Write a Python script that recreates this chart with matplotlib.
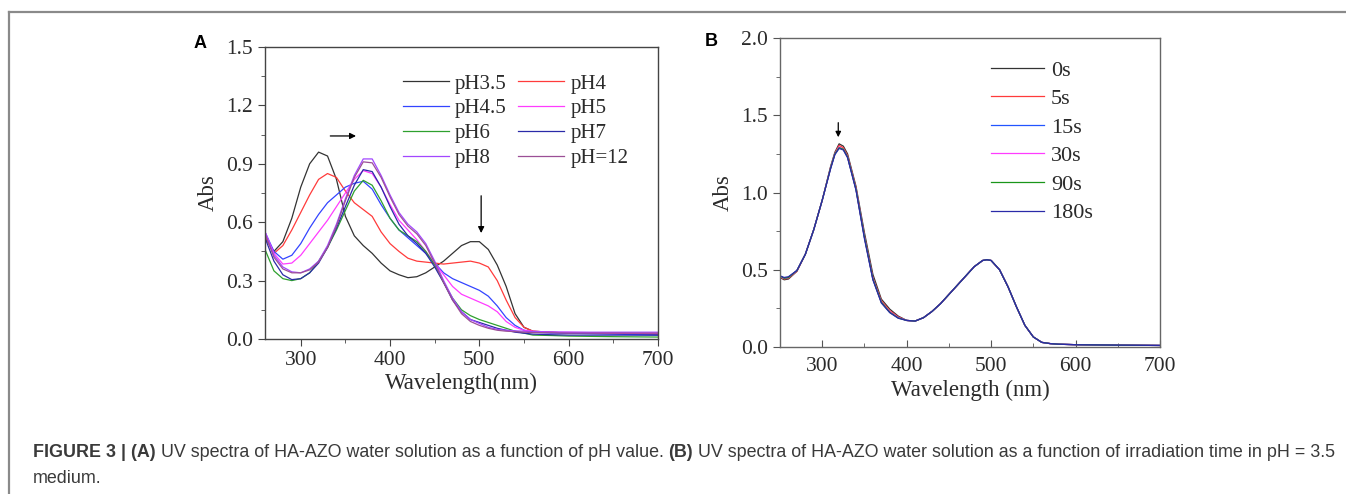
import matplotlib
matplotlib.use("Agg")
import matplotlib.pyplot as plt
from matplotlib.ticker import MultipleLocator, FormatStrFormatter
from matplotlib.lines import Line2D

W, H = 1346, 494

# ---- panel A: pH series ----
wl_a = [260, 270, 280, 290, 300, 310, 320, 330, 340, 350, 360, 370, 380, 390, 400,
        410, 420, 430, 440, 450, 460, 470, 480, 490, 500, 510, 520, 530, 540, 550,
        560, 580, 600, 650, 700]
ph_labels = ["pH3.5", "pH4", "pH4.5", "pH5", "pH6", "pH7", "pH8", "pH=12"]
ph_colors = ["#333333", "#ff3b3b", "#3344ff", "#ff3cff", "#2ea02e", "#2a2aa8", "#a247ff", "#9b4f96"]
abs_ph35 = [.52, .45, .50, .62, .78, .90, .96, .94, .82, .63, .53, .48, .44, .39, .35,
            .33, .315, .32, .34, .37, .40, .44, .48, .50, .50, .46, .38, .27, .13, .06,
            .04, .035, .03, .03, .025]
abs_ph4 = [.53, .44, .48, .56, .65, .74, .82, .85, .83, .76, .70, .665, .63, .55, .49,
           .45, .415, .40, .395, .39, .385, .39, .395, .40, .39, .37, .30, .20, .11, .06,
           .04, .035, .03, .03, .025]
abs_ph45 = [.55, .45, .41, .43, .49, .57, .64, .70, .74, .78, .80, .81, .77, .69, .62,
            .56, .52, .48, .44, .39, .34, .31, .29, .27, .25, .22, .17, .11, .07, .045,
            .035, .03, .03, .025, .02]
abs_ph5 = [.55, .44, .385, .39, .43, .49, .55, .61, .68, .75, .82, .865, .85, .78, .69,
           .61, .56, .51, .45, .39, .33, .27, .23, .21, .19, .17, .14, .09, .06, .045,
           .04, .035, .035, .03, .03]
abs_ph6 = [.46, .35, .31, .30, .31, .34, .40, .47, .56, .66, .76, .815, .79, .71, .62,
           .56, .53, .50, .45, .38, .29, .21, .15, .12, .10, .085, .07, .055, .04, .03,
           .02, .018, .015, .012, .01]
abs_ph7 = [.52, .40, .33, .305, .31, .34, .39, .47, .57, .68, .79, .87, .86, .78, .68,
           .59, .53, .49, .44, .37, .29, .20, .14, .10, .085, .07, .055, .045, .035, .03,
           .025, .022, .02, .02, .02]
abs_ph8 = [.55, .43, .37, .345, .34, .36, .40, .48, .59, .72, .84, .925, .925, .84, .74,
           .65, .59, .55, .49, .40, .30, .21, .14, .10, .08, .06, .05, .045, .042, .04,
           .038, .036, .035, .035, .035]
abs_ph12 = [.54, .42, .36, .34, .34, .355, .395, .47, .58, .71, .83, .91, .905, .83, .73,
            .64, .58, .54, .48, .39, .29, .20, .13, .09, .07, .055, .045, .04, .038, .035,
            .033, .032, .03, .03, .03]
ph_series = [abs_ph35, abs_ph4, abs_ph45, abs_ph5, abs_ph6, abs_ph7, abs_ph8, abs_ph12]

# ---- panel B: irradiation time series ----
wl_b = [250, 255, 260, 270, 280, 290, 300, 310, 315, 320, 325, 330, 340, 350, 360,
        370, 380, 390, 400, 410, 420, 430, 440, 450, 460, 470, 480, 490, 495, 500,
        510, 520, 530, 540, 550, 560, 570, 580, 600, 650, 700]
t_labels = ["0s", "5s", "15s", "30s", "90s", "180s"]
t_colors = ["#333333", "#ff3b3b", "#2255ff", "#ff3cff", "#1a961a", "#2a2aa8"]
right_tail = [.172, .168, .19, .23, .28, .34, .40, .46, .52, .56, .565, .56,
              .50, .39, .26, .14, .065, .03, .022, .018, .015, .012, .01]
abs_0s = [.45, .435, .44, .49, .60, .76, .95, 1.17, 1.26, 1.315, 1.30, 1.25, 1.04, .74, .47,
          .31, .245, .20] + right_tail
abs_5s = [.455, .44, .445, .49, .60, .76, .95, 1.165, 1.255, 1.305, 1.29, 1.24, 1.03, .72, .45,
          .30, .235, .195] + right_tail
abs_15s = [.46, .445, .45, .495, .60, .76, .95, 1.16, 1.25, 1.29, 1.28, 1.23, 1.02, .71, .44,
           .29, .225, .19] + right_tail
abs_30s = [.455, .445, .45, .495, .60, .76, .95, 1.16, 1.25, 1.295, 1.28, 1.23, 1.02, .71, .44,
           .29, .228, .19] + right_tail
abs_90s = [.46, .445, .45, .495, .60, .76, .95, 1.16, 1.25, 1.29, 1.28, 1.23, 1.02, .71, .44,
           .29, .225, .188] + right_tail
abs_180s = [.46, .45, .455, .495, .60, .76, .95, 1.155, 1.245, 1.285, 1.275, 1.225, 1.015, .70, .435,
            .285, .222, .186] + right_tail
t_series = [abs_0s, abs_5s, abs_15s, abs_30s, abs_90s, abs_180s]

plt.rcParams['font.family'] = ['Liberation Serif', 'DejaVu Serif']
fig = plt.figure(figsize=(W / 100, H / 100), dpi=100)


def px(x, y):
    return x / W, 1 - y / H


def box(l, t, r, b):
    return [l / W, 1 - b / H, (r - l) / W, (b - t) / H]


# outer frame
fig.add_artist(Line2D([9 / W, 1], [1 - 12 / H, 1 - 12 / H], color="#8a8a8a", lw=1.6))
fig.add_artist(Line2D([9 / W, 9 / W], [0, 1 - 12 / H], color="#8a8a8a", lw=1.6))

TXT = "#2b2b2b"
TICK = 15.5

# ----- A -----
axA = fig.add_axes(box(265, 47, 658, 339))
for lab, col, ys in zip(ph_labels, ph_colors, ph_series):
    axA.plot(wl_a, ys, color=col, lw=0.9, label=lab)
axA.set_xlim(260, 700)
axA.set_ylim(0, 1.5)
axA.xaxis.set_major_locator(MultipleLocator(100))
axA.xaxis.set_minor_locator(MultipleLocator(50))
axA.yaxis.set_major_locator(MultipleLocator(0.3))
axA.yaxis.set_minor_locator(MultipleLocator(0.15))
axA.yaxis.set_major_formatter(FormatStrFormatter("%.1f"))
axA.tick_params(which="both", direction="out", labelsize=TICK, colors="#444444", labelcolor=TXT)
axA.tick_params(which="major", length=5)
axA.tick_params(which="minor", length=3)
axA.set_xlabel("Wavelength(nm)", fontsize=16.5, color=TXT, labelpad=2)
axA.set_ylabel("Abs", fontsize=16.5, color=TXT, labelpad=5)
for s in axA.spines.values():
    s.set_color("#444444")
    s.set_linewidth(1.0)
h, l = axA.get_legend_handles_labels()
order = [0, 2, 4, 6, 1, 3, 5, 7]
axA.legend([h[i] for i in order], [l[i] for i in order], ncol=2, frameon=False,
           fontsize=15, loc="upper left", bbox_to_anchor=px(403, 74),
           bbox_transform=fig.transFigure, borderpad=0, borderaxespad=0,
           handlelength=2.2, handletextpad=0.3, columnspacing=0.55, labelspacing=0.25,
           labelcolor=TXT)
axA.annotate("", xy=(365, 1.043), xytext=(330, 1.043),
             arrowprops=dict(arrowstyle="-|>", color="black", lw=0.9, mutation_scale=9))
axA.annotate("", xy=(502, 0.53), xytext=(502, 0.75),
             arrowprops=dict(arrowstyle="-|>", color="black", lw=0.9, mutation_scale=9))

# ----- B -----
axB = fig.add_axes(box(780, 38, 1160, 347))
for lab, col, ys in zip(t_labels, t_colors, t_series):
    axB.plot(wl_b, ys, color=col, lw=0.9, label=lab)
axB.set_xlim(250, 700)
axB.set_ylim(0, 2.0)
axB.xaxis.set_major_locator(MultipleLocator(100))
axB.xaxis.set_minor_locator(MultipleLocator(50))
axB.yaxis.set_major_locator(MultipleLocator(0.5))
axB.yaxis.set_minor_locator(MultipleLocator(0.25))
axB.yaxis.set_major_formatter(FormatStrFormatter("%.1f"))
axB.tick_params(which="both", labelsize=TICK, colors="#555555", labelcolor=TXT)
axB.tick_params(axis="x", which="both", direction="in")
axB.tick_params(axis="y", which="both", direction="out")
axB.tick_params(which="major", length=5)
axB.tick_params(which="minor", length=3)
axB.tick_params(axis="x", pad=7)
axB.set_xlabel("Wavelength (nm)", fontsize=16.5, color=TXT, labelpad=3)
axB.set_ylabel("Abs", fontsize=16.5, color=TXT, labelpad=5)
for s in axB.spines.values():
    s.set_color("#666666")
    s.set_linewidth(1.0)
axB.legend(frameon=False, fontsize=16, loc="upper left", bbox_to_anchor=px(991, 60),
           bbox_transform=fig.transFigure, borderpad=0, borderaxespad=0,
           handlelength=2.4, handletextpad=0.3, labelspacing=0.36, labelcolor=TXT)
axB.annotate("", xy=(319, 1.34), xytext=(319, 1.47),
             arrowprops=dict(arrowstyle="-|>", color="black", lw=0.9, mutation_scale=8))

# panel letters
fig.text(*px(194, 43), "A", fontsize=13, fontweight="bold", family="Liberation Sans", va="center")
fig.text(*px(705, 42), "B", fontsize=13, fontweight="bold", family="Liberation Sans", va="center")

# caption
CAP = "#3a3a3a"
runs = [("FIGURE 3 | (A)", "bold"),
        ("UV spectra of HA-AZO water solution as a function of pH value.", "normal"),
        ("(B)", "bold"),
        ("UV spectra of HA-AZO water solution as a function of irradiation time in pH = 3.5", "normal")]
rend = fig.canvas.get_renderer()


def run_width(size):
    tot = 0
    for s, w in runs:
        t = fig.text(0, 0, s, fontsize=size, fontweight=w, family="Liberation Sans")
        tot += t.get_window_extent(rend).width
        t.remove()
    return tot + 3 * 0.278 * size * 100 / 72


size = 10.0
size *= (1342 - 33) / run_width(size)
x = 33
for s, w in runs:
    t = fig.text(*px(x, 457), s, fontsize=size, fontweight=w, family="Liberation Sans",
                 color=CAP, va="baseline")
    x += t.get_window_extent(rend).width + 0.278 * size * 100 / 72
fig.text(*px(33, 483), "medium.", fontsize=size, family="Liberation Sans", color=CAP, va="baseline")

fig.savefig("out.png", dpi=100)
